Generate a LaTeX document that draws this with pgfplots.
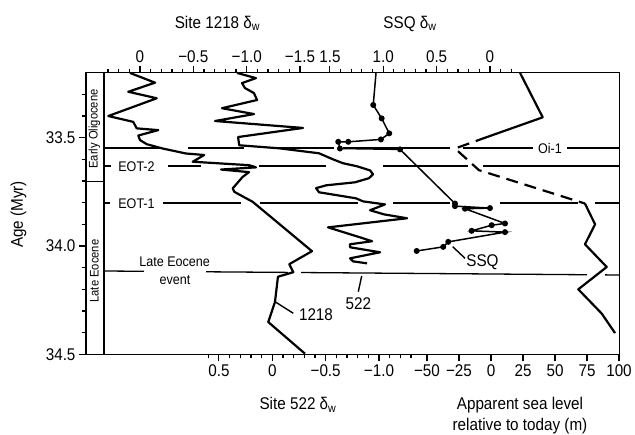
\documentclass[border=0pt]{standalone}
\usepackage{pgfplots}
\pgfplotsset{compat=1.18}
\usepackage{fontspec}
\setmainfont[FakeStretch=0.9]{Liberation Sans}
\newcommand\ticksize{\fontsize{17}{20}\selectfont}
\newcommand\evfont{\fontsize{14}{16}\selectfont}
\newcommand\epfont{\fontsize{12.5}{14}\selectfont}
\newcommand\dw{δ\textsubscript{w}}
\pgfplotsset{
  base/.style={scale only axis, width=533.3bp, height=281.6bp,
    at={(86bp,80.7bp)}, anchor=south west,
    ymin=33.2, ymax=34.5, y dir=reverse,
    tick align=outside, major tick length=7bp, minor tick length=4bp,
    every tick/.style={black, line width=1.1bp},
    tick label style={font=\ticksize},
    clip=false},
  overlay/.style={base, hide y axis, axis line style={draw=none}},
}
\begin{document}
\begin{tikzpicture}
% ---- main axis: frame, age axis, Site 1218 (top left scale)
\begin{axis}[base, xmin=-4.492, xmax=0.506, x dir=reverse,
  axis line style={line width=1.3bp},
  xtick pos=right, xticklabel pos=right,
  xtick={-1.5,-1,-0.5,0}, xticklabels={−1.5,−1.0,−0.5,0},
  minor xtick={-1.4,-1.3,-1.2,-1.1,-0.9,-0.8,-0.7,-0.6,-0.4,-0.3,-0.2,-0.1,0.1,0.2,0.3},
  ytick pos=left, ytick={33.5,34,34.5}, yticklabels={33.5,34.0,34.5},
  minor ytick={33.3,33.4,33.6,33.7,33.8,33.9,34.1,34.2,34.3,34.4}]
\addplot[black, line width=2.2bp, line join=round] coordinates {
(0.094,33.201) (-0.141,33.246) (0.110,33.288) (-0.157,33.318) (0.297,33.400)
(0.063,33.427) (0.031,33.457) (-0.172,33.465) (0.016,33.490) (0.000,33.511)
(-0.063,33.530) (-0.213,33.550) (-0.431,33.573) (-0.602,33.580) (-0.494,33.611)
(-1.024,33.627) (-1.087,33.637) (-0.759,33.647) (-1.022,33.659) (-0.962,33.681)
(-0.869,33.734) (-0.884,33.750) (-1.056,33.796) (-1.244,33.873) (-1.612,34.024)
(-1.399,34.084) (-1.437,34.121) (-1.293,34.142) (-1.265,34.259) (-1.202,34.351)
(-1.546,34.497)};
\end{axis}
% ---- SSQ (top right scale)
\begin{axis}[overlay, xmin=-1.212, xmax=3.786, x dir=reverse,
  xtick pos=right, xticklabel pos=right,
  xtick={0,0.5,1,1.5}, xticklabels={0,0.5,1.0,1.5},
  minor xtick={-0.2,-0.1,0.1,0.2,0.3,0.4,0.6,0.7,0.8,0.9,1.1,1.2,1.3,1.4}]
\addplot[black, line width=1.5bp, mark=*, mark phase=2, mark size=2.2bp] coordinates {
(1.068,33.201) (1.094,33.349) (1.015,33.411) (0.944,33.480) (1.022,33.508)
(1.328,33.519) (1.422,33.519) (1.406,33.550) (0.843,33.554) (0.328,33.804)
(0.328,33.816) (0.000,33.825) (0.234,33.828) (-0.141,33.896) (-0.016,33.904)
(0.172,33.930) (-0.141,33.936) (0.391,33.981) (0.438,34.004) (0.687,34.023)};
\end{axis}
% ---- Site 522 (bottom left scale)
\begin{axis}[overlay, xmin=-3.252, xmax=1.746, x dir=reverse,
  xtick pos=left, xticklabel pos=left,
  xtick={-1,-0.5,0,0.5}, xticklabels={−1.0,−0.5,0,0.5},
  minor xtick={-1.3,-1.2,-1.1,-0.9,-0.8,-0.7,-0.6,-0.4,-0.3,-0.2,-0.1,0.1,0.2,0.3,0.4,0.6}]
\addplot[black, line width=2.2bp, line join=round] coordinates {
(0.331,33.201) (0.153,33.225) (0.284,33.248) (0.256,33.271) (0.172,33.294)
(0.143,33.326) (0.472,33.364) (0.171,33.391) (0.537,33.423) (-0.288,33.455)
(0.321,33.497) (0.310,33.535) (-0.063,33.549) (-0.438,33.572) (-0.569,33.600)
(-0.663,33.618) (-0.794,33.632) (-0.916,33.651) (-0.944,33.669) (-0.906,33.687)
(-0.775,33.706) (-0.504,33.720) (-0.410,33.733) (-0.438,33.752) (-0.785,33.780)
(-0.850,33.794) (-1.056,33.808) (-0.916,33.835) (-1.047,33.854) (-1.263,33.872)
(-0.522,33.914) (-0.607,33.927) (-0.822,33.960) (-0.935,33.978) (-0.729,33.992)
(-0.729,34.006) (-1.010,34.029) (-0.729,34.057) (-0.757,34.071) (-0.888,34.080)};
\end{axis}
% ---- Apparent sea level (bottom right scale)
\begin{axis}[overlay, xmin=-316.4, xmax=100.23,
  xtick pos=left, xticklabel pos=left,
  xtick={-50,-25,0,25,50,75,100}, xticklabels={−50,−25,0,25,50,75,100}]
\addplot[black, line width=2.2bp, line join=round] coordinates {
(22.7,33.201) (40.4,33.406) (-3.1,33.497)};
\addplot[black, line width=2.2bp, dash pattern=on 12bp off 7bp] coordinates {
(-3.1,33.497) (-28.1,33.550) (-9.4,33.650) (73.4,33.804)};
\addplot[black, line width=2.2bp, line join=round] coordinates {
(73.4,33.804) (81.3,33.900) (73.4,33.992) (90.4,34.097) (68.2,34.200)
(86.5,34.312) (96.9,34.402)};
\end{axis}
% ---- annotations in picture units
\begin{scope}[x=1bp, y=-1bp, shift={(0bp,435bp)}]
  \draw[line width=1.3bp] (104,72.7) -- (104,354.3);
  \draw[line width=1.3bp] (86,181.7) -- (104,181.7);
  \node[rotate=90, font=\epfont, inner sep=0] at (94.5,129) {Early Oligocene};
  \node[rotate=90, font=\epfont, inner sep=0] at (94.5,271) {Late Eocene};
  % event lines
  \foreach \a/\b in {104/161,188/244,278/334,343/450,463/533,567/619.3}
    \draw[line width=1.7bp] (\a,148.3) -- (\b,148.3);
  \foreach \a/\b in {104/111,168/201,259/326,383/468,483/619.3}
    \draw[line width=1.7bp] (\a,165.7) -- (\b,165.7);
  \foreach \a/\b in {104/110,163/241,260/358,393/450,500/578,595/619.3}
    \draw[line width=1.7bp] (\a,203.3) -- (\b,203.3);
  \foreach \a/\b in {104/144,206/288,301/587,605/619.3}
    \draw[line width=1.3bp] (\a,{271+(\a-104)*4/515.3}) -- (\b,{271+(\b-104)*4/515.3});
  \node[font=\evfont, inner sep=0] at (136.5,166.7) {EOT-2};
  \node[font=\evfont, inner sep=0] at (136.5,204.2) {EOT-1};
  \node[font=\evfont, inner sep=0] at (550,148.5) {Oi-1};
  \node[font=\evfont, inner sep=0, anchor=base] at (174.7,266.7) {Late Eocene};
  \node[font=\evfont, inner sep=0, anchor=base] at (175,285) {event};
  % curve labels
  \draw[line width=1.4bp] (275,301.7) -- (293.3,313.3);
  \node[font=\ticksize, inner sep=0] at (316,315) {1218};
  \draw[line width=1.4bp] (361.7,276) -- (358.3,291.7);
  \node[font=\ticksize, inner sep=0] at (358.3,303.3) {522};
  \draw[line width=1.4bp] (452.7,246.7) -- (465,258.3);
  \node[font=\ticksize, inner sep=0] at (482.5,261.7) {SSQ};
  % axis titles
  \node[font=\ticksize, inner sep=0, anchor=base] at (217.5,28.3) {Site 1218 \dw};
  \node[font=\ticksize, inner sep=0, anchor=base] at (410,28.3) {SSQ \dw};
  \node[font=\ticksize, inner sep=0, anchor=base] at (298,410) {Site 522 \dw};
  \node[font=\ticksize, inner sep=0, anchor=base] at (520,409.5) {Apparent sea level};
  \node[font=\ticksize, inner sep=0, anchor=base] at (520,431) {relative to today (m)};
  \node[font=\ticksize, inner sep=0, rotate=90] at (18.5,214.5) {Age (Myr)};
\end{scope}
\pgfresetboundingbox
\path[use as bounding box] (0,0) rectangle (635bp,435bp);
\end{tikzpicture}
\end{document}
